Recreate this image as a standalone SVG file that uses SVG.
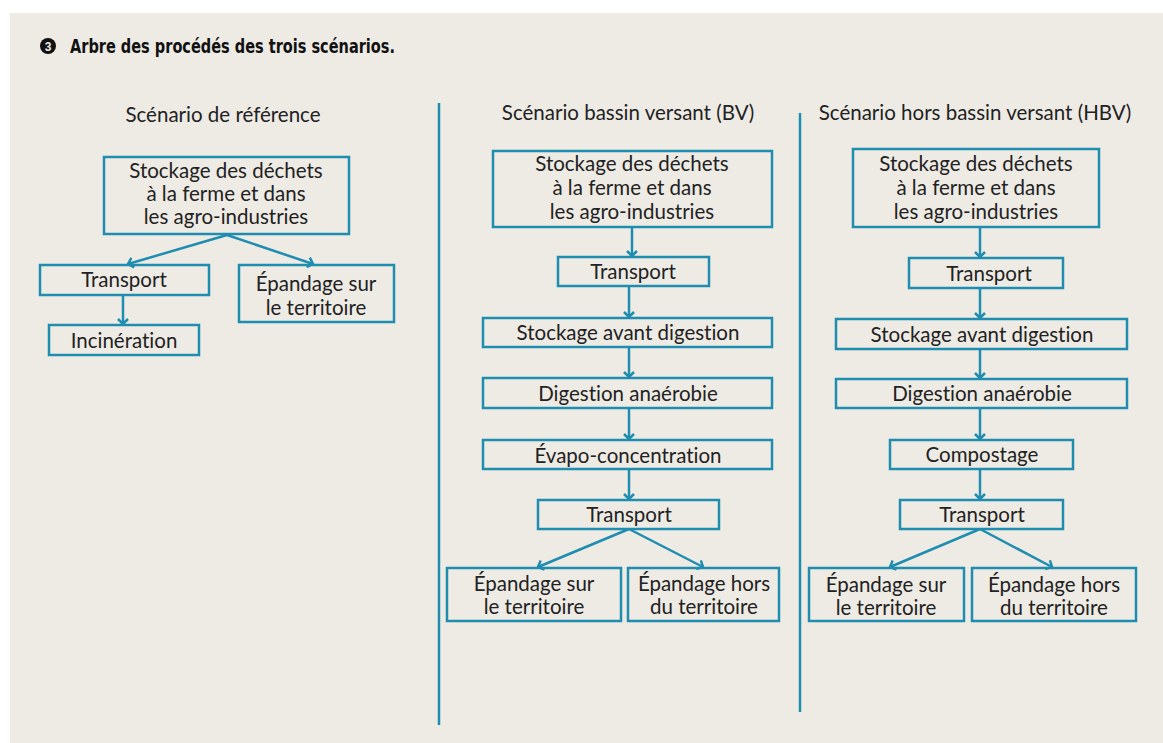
<svg xmlns="http://www.w3.org/2000/svg" width="1163" height="743" viewBox="0 0 1163 743">
<style>
.bx{fill:none;stroke:#1f8db0;stroke-width:2.5}
.cn{fill:none;stroke:#1f8db0;stroke-width:2.5}
.t{font-family:"Lato","Open Sans",sans-serif;font-size:20.5px;fill:#222;text-anchor:middle;font-variant-ligatures:none}
.h{font-family:"Lato","Open Sans",sans-serif;font-size:20.5px;fill:#222;text-anchor:middle;font-variant-ligatures:none}
.ttl{font-family:"DejaVu Sans Condensed","DejaVu Sans",sans-serif;font-weight:bold;font-size:19px;fill:#111}
.num{font-family:"Liberation Sans",sans-serif;font-weight:bold;font-size:12px;fill:#eeebe5;text-anchor:middle}
.dv{stroke:#1f8db0;stroke-width:2.5}
</style>
<defs>
<marker id="ar" markerWidth="12" markerHeight="12" refX="6" refY="6" orient="auto" markerUnits="userSpaceOnUse">
<path d="M1,1 L6,6 L1,11" fill="none" stroke="#1f8db0" stroke-width="2.5"/>
</marker>
</defs>
<rect x="0" y="0" width="1163" height="743" fill="#ffffff"/>
<rect x="10" y="13" width="1153" height="730" fill="#eeebe5"/>
<g id="title">
<circle cx="48" cy="46" r="8" fill="#111"/>
<text x="48" y="50.5" class="num">3</text>
<text x="70" y="53" class="ttl" textLength="325" lengthAdjust="spacingAndGlyphs">Arbre des procédés des trois scénarios.</text>
</g>
<line class="dv" x1="439" y1="103" x2="439" y2="725"/>
<line class="dv" x1="800" y1="113" x2="800" y2="712"/>
<text class="h" x="223" y="122">Scénario de référence</text>
<text class="h" x="628" y="120">Scénario bassin versant (BV)</text>
<text class="h" x="975" y="120">Scénario hors bassin versant (HBV)</text>

<g id="connectors">
<path class="cn" marker-end="url(#ar)" d="M227,235 L128,264"/>
<path class="cn" marker-end="url(#ar)" d="M227,235 L313,264"/>
<path class="cn" marker-end="url(#ar)" d="M123,295 L123,324"/>
<path class="cn" marker-end="url(#ar)" d="M632,227 L632,256"/>
<path class="cn" marker-end="url(#ar)" d="M629,286 L629,317"/>
<path class="cn" marker-end="url(#ar)" d="M629,347 L629,377"/>
<path class="cn" marker-end="url(#ar)" d="M629,408 L629,439"/>
<path class="cn" marker-end="url(#ar)" d="M629,469 L629,499"/>
<path class="cn" marker-end="url(#ar)" d="M629,529 L538,567"/>
<path class="cn" marker-end="url(#ar)" d="M629,529 L703,567"/>
<path class="cn" marker-end="url(#ar)" d="M980,227 L980,257"/>
<path class="cn" marker-end="url(#ar)" d="M980,288 L980,318"/>
<path class="cn" marker-end="url(#ar)" d="M980,349 L980,378"/>
<path class="cn" marker-end="url(#ar)" d="M980,408 L980,439"/>
<path class="cn" marker-end="url(#ar)" d="M980,469 L980,499"/>
<path class="cn" marker-end="url(#ar)" d="M980,529 L890,567"/>
<path class="cn" marker-end="url(#ar)" d="M980,529 L1052,567"/>
</g>

<g id="ref-stockage"><rect class="bx" x="104" y="157" width="245" height="77"/>
<text class="t" x="226" y="178">Stockage des déchets</text><text class="t" x="226" y="201">à la ferme et dans</text><text class="t" x="226" y="224">les agro-industries</text></g>
<g id="ref-transport"><rect class="bx" x="40" y="265" width="169" height="30"/><text class="t" x="124" y="287">Transport</text></g>
<g id="ref-epandage"><rect class="bx" x="239" y="265" width="155" height="57"/><text class="t" x="316" y="291">Épandage sur</text><text class="t" x="316" y="315">le territoire</text></g>
<g id="ref-incineration"><rect class="bx" x="49" y="325" width="150" height="30"/><text class="t" x="124" y="348">Incinération</text></g>

<g id="bv-stockage"><rect class="bx" x="493" y="151" width="279" height="76"/>
<text class="t" x="632" y="171">Stockage des déchets</text><text class="t" x="632" y="195">à la ferme et dans</text><text class="t" x="632" y="219">les agro-industries</text></g>
<g id="bv-transport1"><rect class="bx" x="558" y="257" width="151" height="29"/><text class="t" x="633" y="279">Transport</text></g>
<g id="bv-stockage-avant"><rect class="bx" x="483" y="318" width="289" height="29"/><text class="t" x="628" y="340">Stockage avant digestion</text></g>
<g id="bv-digestion"><rect class="bx" x="483" y="378" width="289" height="30"/><text class="t" x="628" y="401">Digestion anaérobie</text></g>
<g id="bv-evapo"><rect class="bx" x="483" y="440" width="289" height="29"/><text class="t" x="628" y="463">Évapo-concentration</text></g>
<g id="bv-transport2"><rect class="bx" x="538" y="500" width="181" height="29"/><text class="t" x="629" y="522">Transport</text></g>
<g id="bv-epandage-sur"><rect class="bx" x="447" y="568" width="174" height="53"/><text class="t" x="534" y="591">Épandage sur</text><text class="t" x="534" y="614">le territoire</text></g>
<g id="bv-epandage-hors"><rect class="bx" x="628" y="568" width="151" height="53"/><text class="t" x="704" y="591">Épandage hors</text><text class="t" x="704" y="614">du territoire</text></g>

<g id="hbv-stockage"><rect class="bx" x="853" y="149" width="246" height="78"/>
<text class="t" x="976" y="171">Stockage des déchets</text><text class="t" x="976" y="195">à la ferme et dans</text><text class="t" x="976" y="219">les agro-industries</text></g>
<g id="hbv-transport1"><rect class="bx" x="909" y="258" width="154" height="30"/><text class="t" x="989" y="281">Transport</text></g>
<g id="hbv-stockage-avant"><rect class="bx" x="836" y="319" width="291" height="30"/><text class="t" x="982" y="342">Stockage avant digestion</text></g>
<g id="hbv-digestion"><rect class="bx" x="836" y="379" width="291" height="29"/><text class="t" x="982" y="401">Digestion anaérobie</text></g>
<g id="hbv-compostage"><rect class="bx" x="890" y="440" width="183" height="29"/><text class="t" x="982" y="462">Compostage</text></g>
<g id="hbv-transport2"><rect class="bx" x="900" y="500" width="163" height="29"/><text class="t" x="982" y="522">Transport</text></g>
<g id="hbv-epandage-sur"><rect class="bx" x="809" y="568" width="155" height="53"/><text class="t" x="886" y="592">Épandage sur</text><text class="t" x="886" y="615">le territoire</text></g>
<g id="hbv-epandage-hors"><rect class="bx" x="972" y="568" width="164" height="53"/><text class="t" x="1054" y="592">Épandage hors</text><text class="t" x="1054" y="615">du territoire</text></g>
</svg>
